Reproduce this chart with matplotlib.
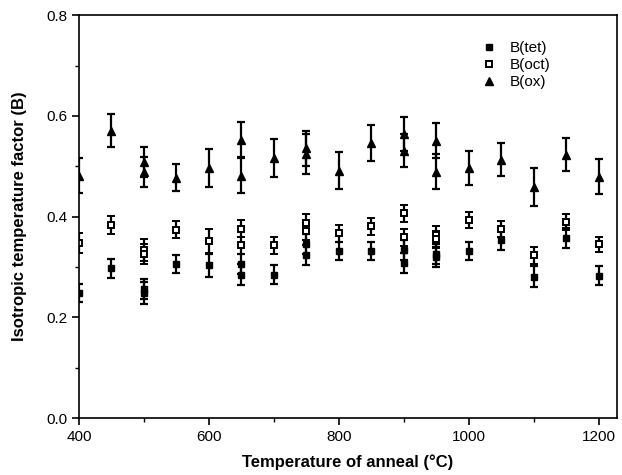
import matplotlib
matplotlib.use("Agg")
import matplotlib.pyplot as plt
from matplotlib.ticker import MultipleLocator
from matplotlib.lines import Line2D

plt.rcParams['font.family'] = ['Liberation Sans', 'DejaVu Sans']

# B(tet)
tet_x = [400, 450, 500, 500, 550, 600, 650, 650, 700, 750, 750, 800, 850, 900, 900, 950, 950, 1000, 1050, 1100, 1150, 1200]
tet_y = [0.249, 0.297, 0.256, 0.248, 0.306, 0.303, 0.306, 0.285, 0.285, 0.346, 0.324, 0.331, 0.331, 0.333, 0.308, 0.326, 0.320, 0.331, 0.353, 0.281, 0.357, 0.283]
tet_e = [0.018, 0.018, 0.020, 0.022, 0.018, 0.022, 0.020, 0.020, 0.018, 0.020, 0.020, 0.018, 0.018, 0.020, 0.020, 0.020, 0.020, 0.018, 0.020, 0.021, 0.020, 0.019]

# B(oct)
oct_x = [400, 450, 500, 500, 550, 600, 650, 650, 700, 750, 750, 800, 850, 900, 900, 950, 950, 1000, 1050, 1100, 1150, 1200]
oct_y = [0.347, 0.384, 0.333, 0.325, 0.374, 0.351, 0.376, 0.343, 0.343, 0.388, 0.371, 0.367, 0.381, 0.407, 0.359, 0.364, 0.355, 0.394, 0.375, 0.323, 0.389, 0.345]
oct_e = [0.020, 0.018, 0.022, 0.020, 0.017, 0.024, 0.017, 0.017, 0.017, 0.017, 0.017, 0.017, 0.017, 0.017, 0.017, 0.017, 0.017, 0.016, 0.016, 0.017, 0.016, 0.015]

# B(ox)
ox_x = [400, 450, 500, 500, 550, 600, 650, 650, 700, 750, 750, 800, 850, 900, 900, 950, 950, 1000, 1050, 1100, 1150, 1200]
ox_y = [0.481, 0.571, 0.509, 0.489, 0.477, 0.496, 0.553, 0.481, 0.517, 0.536, 0.524, 0.491, 0.546, 0.564, 0.531, 0.551, 0.489, 0.497, 0.513, 0.459, 0.523, 0.479]
ox_e = [0.035, 0.033, 0.030, 0.030, 0.027, 0.038, 0.035, 0.035, 0.038, 0.035, 0.040, 0.037, 0.035, 0.033, 0.033, 0.035, 0.035, 0.034, 0.033, 0.038, 0.033, 0.035]

fig = plt.figure(figsize=(6.22, 4.75), dpi=100)
ax = fig.add_axes([0.127, 0.12, 0.865, 0.848])

common = dict(ecolor='black', elinewidth=1.6, capsize=3.2, capthick=1.6, linestyle='none', color='black')
ax.errorbar(tet_x, tet_y, yerr=tet_e, marker='s', markersize=5, markerfacecolor='black',
            markeredgecolor='black', **common)
ax.errorbar(oct_x, oct_y, yerr=oct_e, marker='s', markersize=5, markerfacecolor='white',
            markeredgecolor='black', markeredgewidth=1.4, **common)
ax.errorbar(ox_x, ox_y, yerr=ox_e, marker='^', markersize=6, markerfacecolor='black',
            markeredgecolor='black', **common)

ax.set_xlim(400, 1228)
ax.set_ylim(0, 0.8)
ax.xaxis.set_major_locator(MultipleLocator(200))
ax.xaxis.set_minor_locator(MultipleLocator(100))
ax.yaxis.set_minor_locator(MultipleLocator(0.1))
ax.set_yticks([0, 0.2, 0.4, 0.6, 0.8])
ax.set_yticklabels(['0.0', '0.2', '0.4', '0.6', '0.8'])
ax.tick_params(which='major', direction='out', length=5, width=1.2, labelsize=11)
ax.tick_params(which='minor', direction='out', length=3, width=1.0)
for s in ax.spines.values():
    s.set_linewidth(1.2)

ax.set_xlabel('Temperature of anneal (°C)', fontsize=12, fontweight='bold', labelpad=8)
ax.set_ylabel('Isotropic temperature factor (B)', fontsize=12, fontweight='bold', labelpad=14)

handles = [
    Line2D([], [], linestyle='none', marker='s', markersize=5, markerfacecolor='black', markeredgecolor='black'),
    Line2D([], [], linestyle='none', marker='s', markersize=5, markerfacecolor='white', markeredgecolor='black', markeredgewidth=1.4),
    Line2D([], [], linestyle='none', marker='^', markersize=6, markerfacecolor='black', markeredgecolor='black'),
]
ax.legend(handles, ['B(tet)', 'B(oct)', 'B(ox)'], loc='upper left', bbox_to_anchor=(0.722, 0.97),
          frameon=False, fontsize=11, handletextpad=0.9, labelspacing=0.2, handlelength=1.0)

fig.savefig('out.png', dpi=100)
